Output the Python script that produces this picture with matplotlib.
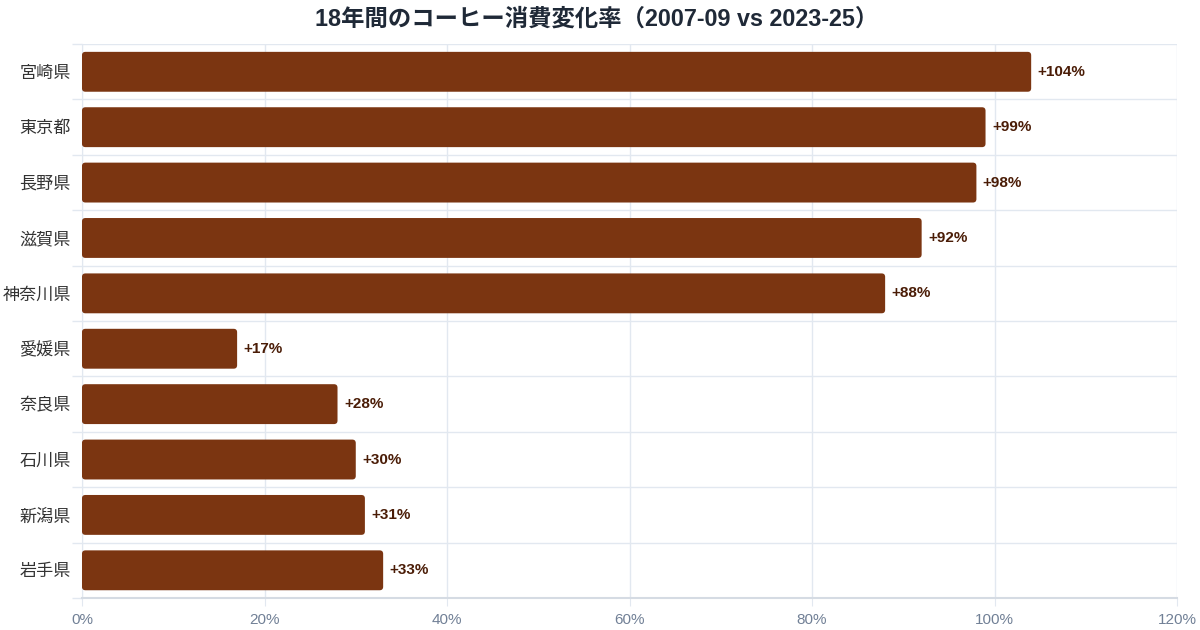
import matplotlib
matplotlib.use("Agg")
import matplotlib.pyplot as plt
from matplotlib.patches import FancyBboxPatch
from matplotlib.ticker import FuncFormatter, FixedLocator

# Latin glyphs from a Helvetica-like face, Japanese from Noto CJK
plt.rcParams['font.family'] = ['Liberation Sans', 'Noto Sans CJK JP', 'DejaVu Sans']

# data (top to bottom)
prefectures = ['宮崎県', '東京都', '長野県', '滋賀県', '神奈川県',
               '愛媛県', '奈良県', '石川県', '新潟県', '岩手県']
change_pct = [104, 99, 98, 92, 88, 17, 28, 30, 31, 33]

bar_color = '#7b3511'
grid_color = '#e2e8f0'

fig = plt.figure(figsize=(12, 6.3), dpi=100)
fig.patch.set_facecolor('white')
ax = fig.add_axes([0.0683, 0.0508, 0.9127, 0.8792])

y = list(range(len(prefectures)))
bars = ax.barh(y, change_pct, height=0.72, color=bar_color)
ax.set_xlim(0, 120)
ax.set_ylim(len(prefectures) - 0.5, -0.5)

# rounded bar corners (replace rectangles)
px_per_x = 1095 / 120
px_per_y = 554 / 10
for b in bars:
    bx, by, bw, bh = b.get_x(), b.get_y(), b.get_width(), b.get_height()
    b.set_visible(False)
    r = 3.5 / px_per_x
    patch = FancyBboxPatch((bx, by), bw, bh,
                           boxstyle=f"round,pad=0,rounding_size={r}",
                           mutation_aspect=px_per_x / px_per_y,
                           facecolor=bar_color, edgecolor='none', zorder=3)
    ax.add_patch(patch)
    ax.text(bw + 0.7, by + bh / 2, f'+{bw:.0f}%', va='center', ha='left',
            fontsize=11, fontweight='bold', color='#4a1c06', zorder=4)

ax.set_yticks(y)
ax.set_yticklabels(prefectures, fontsize=12.3, color='#333333')
ax.yaxis.set_minor_locator(FixedLocator([i - 0.5 for i in range(len(prefectures) + 1)]))
ax.tick_params(axis='y', which='major', length=0, pad=8)
ax.tick_params(axis='y', which='minor', length=7, color=grid_color, width=1)

ax.set_xticks([0, 20, 40, 60, 80, 100, 120])
ax.xaxis.set_major_formatter(FuncFormatter(lambda v, p: f'{v:.0f}%'))
ax.tick_params(axis='x', length=6, color=grid_color, labelsize=11,
               labelcolor='#718096', pad=5)

ax.grid(axis='x', which='major', color=grid_color, linewidth=1, zorder=0)
ax.grid(axis='y', which='minor', color=grid_color, linewidth=1, zorder=0)
ax.set_axisbelow(True)

for side in ['top', 'right']:
    ax.spines[side].set_visible(False)
ax.spines['left'].set_color(grid_color)
ax.spines['bottom'].set_color('#d5dbe3')
ax.spines['bottom'].set_linewidth(1.5)

fig.suptitle('18年間のコーヒー消費変化率（2007-09 vs 2023-25）', fontsize=16.8,
             fontweight='bold', color='#1f2937', x=0.497, y=0.988)

fig.savefig('out.png', dpi=100, facecolor='white')
